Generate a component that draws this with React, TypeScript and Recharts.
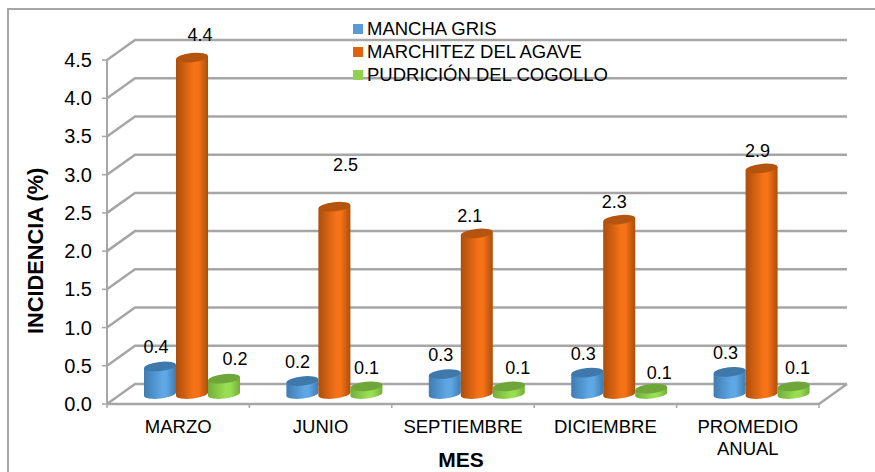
import { BarChart, Bar, XAxis, YAxis, CartesianGrid, LabelList } from "recharts";

const meses = ["MARZO", "JUNIO", "SEPTIEMBRE", "DICIEMBRE", "PROMEDIO ANUAL"];
const manchaGris = [0.36, 0.17, 0.26, 0.28, 0.29];
const marchitez = [4.4, 2.45, 2.1, 2.28, 2.95];
const pudricion = [0.2, 0.1, 0.1, 0.07, 0.1];
const etiquetasMancha = ["0.4", "0.2", "0.3", "0.3", "0.3"];
const etiquetasMarchitez = ["4.4", "2.5", "2.1", "2.3", "2.9"];
const etiquetasPudricion = ["0.2", "0.1", "0.1", "0.1", "0.1"];
const yTicks = [0, 0.5, 1, 1.5, 2, 2.5, 3, 3.5, 4, 4.5];

const data = meses.map((mes, i) => ({
  mes,
  manchaGris: manchaGris[i],
  marchitez: marchitez[i],
  pudricion: pudricion[i],
}));

const FONT = "'Liberation Sans', Arial, sans-serif";
const WALL_DX = 14; // perspectiva del piso
const WALL_DY = 10;
const GRID = "#a6a6a6";
const BAND = 142.4;

const legendItems = [
  { name: "MANCHA GRIS", color: "#5b9bd5" },
  { name: "MARCHITEZ DEL AGAVE", color: "#e0620d" },
  { name: "PUDRICIÓN DEL COGOLLO", color: "#92d050" },
];

function GridLine(props: any) {
  const { x1, x2, y1, index } = props;
  const isFloor = y1 > 390;
  return (
    <g key={`grid-${index}`} fill="none" stroke={GRID} strokeWidth={2.5}>
      <polyline
        points={`${x1 - WALL_DX},${y1 + WALL_DY} ${x1 + WALL_DX},${y1 - WALL_DY} ${x2 + WALL_DX},${y1 - WALL_DY}`}
      />
      {isFloor && (
        <polyline
          points={`${x1 - WALL_DX},${y1 + WALL_DY} ${x2 - WALL_DX},${y1 + WALL_DY} ${x2 + WALL_DX},${y1 - WALL_DY}`}
        />
      )}
    </g>
  );
}

function YTick({ x, y, payload, index }: any) {
  const front = y + WALL_DY;
  return (
    <g>
      <line x1={x - WALL_DX - 5} x2={x - WALL_DX} y1={front} y2={front} stroke={GRID} strokeWidth={1.5} />
      {index > 0 && (
        <line x1={x - WALL_DX} x2={x - WALL_DX} y1={front} y2={front + 38.2} stroke={GRID} strokeWidth={2} />
      )}
      <text x={x - 29} y={front + 7} textAnchor="end" fontFamily={FONT} fontSize={20} fill="#000">
        {Number(payload.value).toFixed(1)}
      </text>
    </g>
  );
}

function XTick({ x, y, payload, index }: any) {
  const cx = x - WALL_DX;
  const floor = y + WALL_DY;
  const lines = payload.value === "PROMEDIO ANUAL" ? payload.value.split(" ") : [payload.value];
  return (
    <g>
      <line x1={cx - BAND / 2} x2={cx - BAND / 2} y1={floor} y2={floor + 4} stroke={GRID} strokeWidth={1.5} />
      {index === meses.length - 1 && (
        <line x1={cx + BAND / 2} x2={cx + BAND / 2} y1={floor} y2={floor + 4} stroke={GRID} strokeWidth={1.5} />
      )}
      <text textAnchor="middle" fontFamily={FONT} fontSize={18.5} fill="#000">
        {lines.map((line: string, i: number) => (
          <tspan key={line} x={cx} y={y + 38.5 + i * 22}>
            {line}
          </tspan>
        ))}
      </text>
    </g>
  );
}

function Cylinder(props: any) {
  const { x, y, width, height, gradient, top } = props;
  const rx = width / 2;
  const ry = 4.6;
  const rot = -6;
  const t = rx * Math.sin((6 * Math.PI) / 180);
  const body = `M${x},${y + t} L${x},${y + height + t} A${rx},${ry} ${rot} 0 0 ${x + width},${y + height - t} L${x + width},${y - t} Z`;
  return (
    <g>
      <path d={body} fill={`url(#${gradient})`} />
      <ellipse cx={x + rx} cy={y} rx={rx} ry={ry} fill={top} transform={`rotate(${rot} ${x + rx} ${y})`} />
    </g>
  );
}

function valueLabel(textos: string[], dx: number[], dy: number[]) {
  return (props: any) => {
    const { x, y, width, index } = props;
    return (
      <text
        x={x + width / 2 + dx[index]}
        y={y + dy[index]}
        textAnchor="middle"
        fontFamily={FONT}
        fontSize={18}
        fill="#000"
      >
        {textos[index]}
      </text>
    );
  };
}

function Gradient({ id, edge, light }: { id: string; edge: string; light: string }) {
  return (
    <linearGradient id={id} x1="0" x2="1" y1="0" y2="0">
      <stop offset="0%" stopColor={edge} />
      <stop offset="55%" stopColor={light} />
      <stop offset="70%" stopColor={light} />
      <stop offset="100%" stopColor={edge} />
    </linearGradient>
  );
}

export default function App() {
  return (
    <div style={{ position: "absolute", left: 0, top: 0, width: 875, height: 472, background: "#fff", overflow: "hidden" }}>
      <div
        style={{
          position: "absolute",
          left: 7,
          top: 8,
          width: 880,
          height: 480,
          border: "2px solid #a6a6a6",
          boxSizing: "border-box",
        }}
      />
      <BarChart
        width={875}
        height={472}
        data={data}
        margin={{ top: 50, right: 42, bottom: 0, left: 0 }}
        barCategoryGap={23}
        barGap={0}
        style={{ position: "absolute", left: 0, top: 0 }}
      >
        <defs>
          <Gradient id="cilAzul" edge="#3f7cb2" light="#5ea6e4" />
          <Gradient id="cilNaranja" edge="#ad4e0b" light="#f57216" />
          <Gradient id="cilVerde" edge="#74ad3b" light="#98de52" />
        </defs>
        <CartesianGrid vertical={false} horizontal={(p: any) => <GridLine {...p} />} syncWithTicks />
        <XAxis
          dataKey="mes"
          height={78}
          axisLine={false}
          tickLine={false}
          tickSize={0}
          tickMargin={0}
          interval={0}
          tick={(p: any) => <XTick {...p} />}
          label={{ value: "MES", position: "insideBottom", offset: 5, dx: -16, fontFamily: FONT, fontSize: 21, fontWeight: 700, fill: "#000" }}
        />
        <YAxis
          type="number"
          domain={[0, 4.5]}
          ticks={yTicks}
          width={121}
          axisLine={false}
          tickLine={false}
          tickSize={0}
          tickMargin={0}
          interval={0}
          tick={(p: any) => <YTick {...p} />}
          label={{ value: "INCIDENCIA (%)", angle: -90, position: "insideLeft", dx: 30, dy: 112, fontFamily: FONT, fontSize: 21.8, fontWeight: 700, fill: "#000" }}
        />
        <Bar dataKey="manchaGris" isAnimationActive={false} shape={(p: any) => <Cylinder {...p} gradient="cilAzul" top="#3f78ab" />}>
          <LabelList content={valueLabel(etiquetasMancha, [-4, -5, -4, -4, -4], [-13, -13, -13, -13, -13])} />
        </Bar>
        <Bar dataKey="marchitez" isAnimationActive={false} shape={(p: any) => <Cylinder {...p} gradient="cilNaranja" top="#b5540e" />}>
          <LabelList content={valueLabel(etiquetasMarchitez, [8, 11, -7, -5, -4], [-17, -36, -11, -12, -11])} />
        </Bar>
        <Bar dataKey="pudricion" isAnimationActive={false} shape={(p: any) => <Cylinder {...p} gradient="cilVerde" top="#6ea63a" />}>
          <LabelList content={valueLabel(etiquetasPudricion, [11, 0, 9, 8, 4], [-14, -12, -12, -10, -12])} />
        </Bar>
      </BarChart>
      <div style={{ position: "absolute", left: 353, top: 17, fontFamily: FONT, fontSize: 18.5, color: "#000" }}>
        {legendItems.map((item) => (
          <div key={item.name} style={{ height: 23, display: "flex", alignItems: "center", whiteSpace: "nowrap" }}>
            <span style={{ width: 10, height: 10, background: item.color, marginRight: 4 }} />
            {item.name}
          </div>
        ))}
      </div>
    </div>
  );
}
